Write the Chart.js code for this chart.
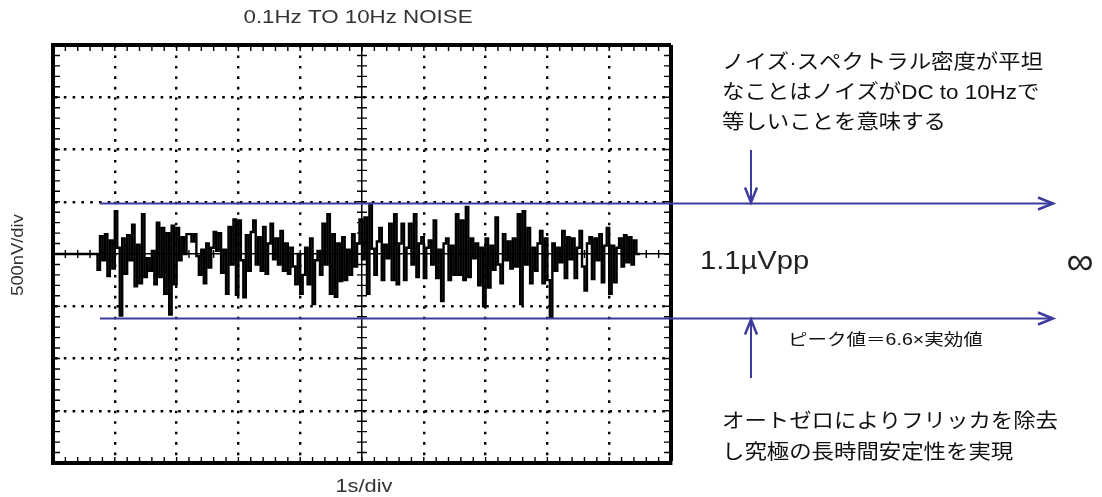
<!DOCTYPE html>
<html>
<head>
<meta charset="utf-8">
<script src="https://cdn.jsdelivr.net/npm/chart.js@4.4.1/dist/chart.umd.min.js"></script>
<style>
  html, body { margin: 0; padding: 0; background: #fff; }
  #wrap { width: 1102px; height: 497px; }
</style>
</head>
<body>
<div id="wrap"><canvas id="scope" width="1102" height="497"></canvas></div>
<script>
// scope settings: 1s/div across 10 div, 500nV/div across 8 div
const titleText = '0.1Hz TO 10Hz NOISE';
const xAxisLabel = '1s/div';
const yAxisLabel = '500nV/div';
const xTicks = [0, 1, 2, 3, 4, 5, 6, 7, 8, 9, 10];          // seconds
const yTicks = [-2000, -1500, -1000, -500, 0, 500, 1000, 1500, 2000]; // nV

// captured trace (nV), one sample every 40ms starting at 0.72s
const sampleStart = 0.72;
const sampleStep = 0.04;
const noiseNv = [
  -150, 170, -60, 190, -210, 130, -140, 410, 60, -590,
  150, -190, 180, -60, 280, -310, 90, -280, 380, -220,
  -40, -160, 30, -290, 300, -220, 250, -380, 200, -580,
  270, -290, 250, -60, 160, 0, 190, 190, 120, 190,
  -20, -200, 40, -280, 100, -130, 60, 210, 30, 200,
  -180, 40, -380, 260, -100, 330, -390, 320, -60, -415,
  180, -160, 210, 320, -100, 160, -160, 260, -190, 100,
  290, -50, 150, -100, 220, -160, 100, -190, 60, -120,
  -290, 0, -380, -200, 60, -290, 150, -480, -60, 30,
  -200, 290, -100, 380, -380, 190, -410, 100, -260, 160,
  -250, 40, -200, 190, -120, 100, 330, -50, 350, -380,
  480, 50, -200, 120, 250, -250, 90, -40, 290, -250,
  380, -290, 100, 290, -250, 60, 290, -100, 380, -220,
  100, 160, -230, 60, 130, -100, 320, -230, 40, -450,
  100, 150, -250, 80, -200, 380, -200, 320, -250, 450,
  -220, 150, -40, 100, -300, 60, -500, 150, -320, 80,
  -150, 350, -100, -280, 190, -60, 120, -140, 150, -120,
  380, -480, 410, -100, 250, -280, 60, -160, 100, 220,
  -280, 150, -250, -600, 100, -160, 60, -80, 220, -230,
  160, -50, 150, -230, 60, 220, -120, -350, 100, 160,
  -240, 150, -60, 190, -270, 80, 250, -380, 80, -270,
  60, 150, -120, 180, -80, 160, -100, 130
];
const traceEnd = 9.5;

// peak envelope of the noise (nV)
const peakHigh = 490;
const peakLow = -610;

const noteFlat = ['ノイズ·スペクトラル密度が平坦', 'なことはノイズがDC to 10Hzで', '等しいことを意味する'];
const notePP = '1.1\u00b5Vpp';
const noteInf = '\u221e';
const notePeak = 'ピーク値＝6.6×実効値';
const noteZero = ['オートゼロによりフリッカを除去', 'し究極の長時間安定性を実現'];

let tracePts = [{x: 0, y: 0}];
noiseNv.forEach((v, i) => tracePts.push({x: sampleStart + i * sampleStep, y: v}));
tracePts.push({x: sampleStart + noiseNv.length * sampleStep, y: 0});
tracePts.push({x: traceEnd, y: 0});

const BLUE = '#3c3c9e';
const JP = "'Liberation Sans', 'Noto Sans CJK JP', sans-serif";

function wideText(ctx, txt, x, y, size, color, sx, align) {
  ctx.save();
  ctx.font = size + 'px ' + JP;
  ctx.fillStyle = color;
  ctx.textBaseline = 'middle';
  ctx.textAlign = align || 'left';
  ctx.translate(x, y);
  ctx.scale(sx, 1);
  ctx.fillText(txt, 0, 0);
  ctx.restore();
}

function chevron(ctx, x, y, dx, dy, len, spread) {
  // head pointing along (dx,dy)
  let px = -dy, py = dx;
  ctx.beginPath();
  ctx.moveTo(x - dx * len + px * spread, y - dy * len + py * spread);
  ctx.lineTo(x, y);
  ctx.lineTo(x - dx * len - px * spread, y - dy * len - py * spread);
  ctx.stroke();
}

const graticule = {
  id: 'graticule',
  beforeDatasetsDraw(chart) {
    const {ctx, chartArea: a, scales: {x, y}} = chart;
    const x5 = x.getPixelForValue(5), y0 = y.getPixelForValue(0);
    ctx.save();
    ctx.strokeStyle = '#000';
    ctx.lineWidth = 1.4;
    for (let k = 1; k < 50; k++) {
      const px = x.getPixelForValue(k * 0.2);
      ctx.beginPath();
      ctx.moveTo(px, a.top); ctx.lineTo(px, a.top + 6);
      ctx.moveTo(px, a.bottom); ctx.lineTo(px, a.bottom - 6);
      ctx.moveTo(px, y0 - 4); ctx.lineTo(px, y0 + 4);
      ctx.stroke();
    }
    for (let k = 1; k < 40; k++) {
      const py = y.getPixelForValue(-2000 + k * 100);
      ctx.beginPath();
      ctx.moveTo(a.left, py); ctx.lineTo(a.left + 7, py);
      ctx.moveTo(a.right, py); ctx.lineTo(a.right - 7, py);
      ctx.moveTo(x5 - 5, py); ctx.lineTo(x5 + 5, py);
      ctx.stroke();
    }
    ctx.restore();
  },
  afterDatasetsDraw(chart) {
    const {ctx, scales: {x, y}} = chart;
    const yHi = Math.round(y.getPixelForValue(peakHigh)) + 0.5;
    const yLo = Math.round(y.getPixelForValue(peakLow)) + 0.5;
    const xStart = x.getPixelForValue(0.76);
    const xTip = 1053, xArrow = 751;
    ctx.save();
    ctx.strokeStyle = BLUE;
    ctx.lineWidth = 2;
    ctx.beginPath();
    ctx.moveTo(xStart, yHi); ctx.lineTo(xTip, yHi);
    ctx.moveTo(xStart, yLo); ctx.lineTo(xTip, yLo);
    ctx.moveTo(xArrow, 150); ctx.lineTo(xArrow, yHi);
    ctx.moveTo(xArrow, 378); ctx.lineTo(xArrow, yLo);
    ctx.stroke();
    ctx.lineWidth = 2.5;
    chevron(ctx, xTip, yHi, 1, 0, 15, 6);
    chevron(ctx, xTip, yLo, 1, 0, 15, 6);
    chevron(ctx, xArrow, yHi - 1, 0, 1, 15, 6);
    chevron(ctx, xArrow, yLo + 1, 0, -1, 15, 6);
    ctx.restore();
  },
  afterDraw(chart) {
    const {ctx} = chart;
    wideText(ctx, titleText, 358, 18, 18, '#333', 1.24, 'center');
    wideText(ctx, xAxisLabel, 364, 487, 19, '#333', 1.15, 'center');
    ctx.save();
    ctx.translate(18, 255);
    ctx.rotate(-Math.PI / 2);
    wideText(ctx, yAxisLabel, 0, 0, 17, '#333', 1.08, 'center');
    ctx.restore();
    noteFlat.forEach((t, i) => wideText(ctx, t, 722, 63 + i * 30, 20, '#111', 1.12));
    wideText(ctx, notePP, 700, 262, 26, '#222', 1.12);
    wideText(ctx, noteInf, 1080, 264, 38, '#222', 1.0, 'center');
    wideText(ctx, notePeak, 788, 341, 16, '#111', 1.22);
    noteZero.forEach((t, i) => wideText(ctx, t, 722, 422 + i * 31, 20, '#111', 1.12));
  }
};

function edgeOrMid(v, lo, hi, mid) { return v === lo || v === hi || v === mid; }

new Chart(document.getElementById('scope'), {
  type: 'line',
  data: {
    datasets: [{
      data: tracePts,
      borderColor: '#000',
      borderWidth: 2.4,
      stepped: true,
      pointRadius: 0,
      tension: 0
    }]
  },
  options: {
    responsive: false,
    animation: false,
    devicePixelRatio: 1,
    layout: { padding: { left: 53, top: 45, right: 431, bottom: 34 } },
    plugins: { legend: { display: false }, tooltip: { enabled: false }, title: { display: false } },
    scales: {
      x: {
        type: 'linear', min: xTicks[0], max: xTicks[xTicks.length - 1],
        afterBuildTicks: s => { s.ticks = xTicks.map(v => ({value: v})); },
        ticks: { display: false },
        grid: {
          drawTicks: false, color: '#000',
          lineWidth: c => c.tick.value === 10 ? 4 : (c.tick.value === 5 ? 1.5 : 2.4)
        },
        border: {
          display: true, width: 4, color: '#000',
          dash: c => (c.tick && !edgeOrMid(c.tick.value, 0, 10, 5)) ? [2.6, 7.85] : []
        }
      },
      y: {
        type: 'linear', min: yTicks[0], max: yTicks[yTicks.length - 1],
        afterBuildTicks: s => { s.ticks = yTicks.map(v => ({value: v})); },
        ticks: { display: false },
        grid: {
          drawTicks: false, color: '#000',
          lineWidth: c => c.tick.value === 2000 ? 4 : (c.tick.value === 0 ? 1.5 : 2.4)
        },
        border: {
          display: true, width: 4, color: '#000',
          dash: c => (c.tick && !edgeOrMid(c.tick.value, -2000, 2000, 0)) ? [2.6, 6.2] : []
        }
      }
    }
  },
  plugins: [graticule]
});
</script>
</body>
</html>
